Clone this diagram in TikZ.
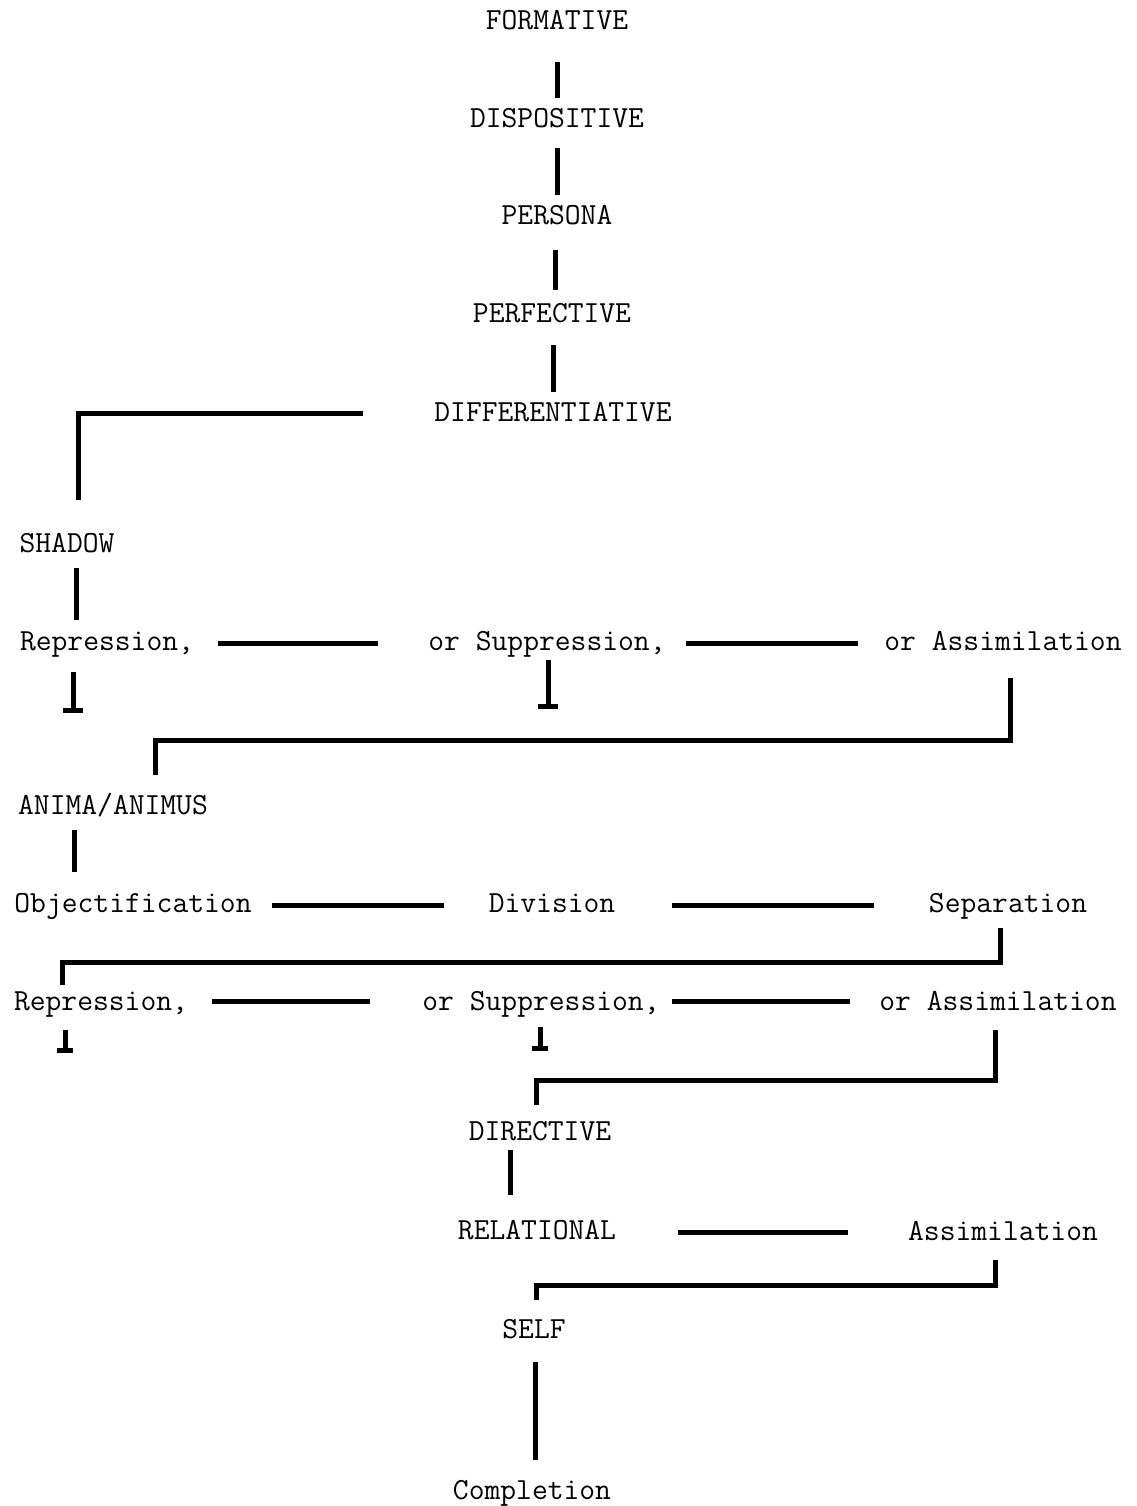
\documentclass[tikz,border=0pt]{standalone}
\usetikzlibrary{calc}
\begin{document}
\begin{tikzpicture}[x=1pt,y=-1pt,
  lbl/.style={font=\fontsize{30.7}{36}\selectfont\ttfamily, inner sep=0pt, text height=19pt, text depth=0pt, anchor=center},
  conn/.style={line width=5pt, line cap=butt, line join=miter}]
\useasboundingbox[fill=white] (0,0) rectangle (1136,1506);
% nodes
\node[lbl] (form) at (557,20) {FORMATIVE};
\node[lbl] (disp) at (557,118) {DISPOSITIVE};
\node[lbl] (pers) at (557,215) {PERSONA};
\node[lbl] (perf) at (552,313) {PERFECTIVE};
\node[lbl] (diff) at (553,412) {DIFFERENTIATIVE};
\node[lbl] (shadow) at (67,543) {SHADOW};
\node[lbl] (rep1) at (107,641) {Repression,};
\node[lbl] (sup1) at (547,641) {or Suppression,};
\node[lbl] (ass1) at (1003,641) {or Assimilation};
\node[lbl] (anima) at (113,805) {ANIMA/ANIMUS};
\node[lbl] (obj) at (133,903) {Objectification};
\node[lbl] (div) at (552,903) {Division};
\node[lbl] (sep) at (1008,903) {Separation};
\node[lbl] (rep2) at (101,1001) {Repression,};
\node[lbl] (sup2) at (541,1001) {or Suppression,};
\node[lbl] (ass2) at (998,1001) {or Assimilation};
\node[lbl] (dir) at (540,1131) {DIRECTIVE};
\node[lbl] (rel) at (537,1230) {RELATIONAL};
\node[lbl] (ass3) at (1003,1231) {Assimilation};
\node[lbl] (self) at (534,1329) {SELF};
\node[lbl] (compl) at (532,1490) {Completion};
% vertical connectors
\draw[conn] ($(form)+(0,42)$) -- ($(disp)+(0,-20)$);
\draw[conn] ($(disp)+(0,30)$) -- ($(pers)+(0,-20)$);
\draw[conn] ($(pers)+(-2,35)$) -- ($(perf)+(3,-23)$);
\draw[conn] ($(perf)+(1,32)$) -- ($(diff)+(0,-20)$);
\draw[conn] ($(diff)+(-190,1)$) -| ($(shadow)+(11,-43)$);
\draw[conn] ($(shadow)+(9,25)$) -- ($(rep1)+(-31,-21)$);
\draw[conn] ($(rep1)+(-34,31)$) -- ++(0,38) ++(-10,0) -- ++(20,0);
\draw[conn] ($(sup1)+(1,19)$) -- ++(0,46) ++(-10,0) -- ++(20,0);
\draw[conn] ($(ass1)+(7,37)$) -- ++(0,62) -| ($(anima)+(42,-30)$);
\draw[conn] ($(anima)+(-39,25)$) -- ($(obj)+(-59,-31)$);
\draw[conn] ($(sep)+(-8,25)$) -- ++(0,34) -| ($(rep2)+(-39,-16)$);
\draw[conn] ($(rep2)+(-36,29)$) -- ++(0,20) ++(-8,0) -- ++(16,0);
\draw[conn] ($(sup2)+(-1,26)$) -- ++(0,21) ++(-8,0) -- ++(16,0);
\draw[conn] ($(ass2)+(-3,29)$) -- ++(0,50) -| ($(dir)+(-4,-26)$);
\draw[conn] ($(dir)+(-30,19)$) -- ($(rel)+(-27,-35)$);
\draw[conn] ($(ass3)+(-8,29)$) -- ++(0,25) -| ($(self)+(2,-29)$);
\draw[conn] ($(self)+(1,33)$) -- ($(compl)+(3,-30)$);
% horizontal connectors
\draw[conn] ($(rep1)+(111,2)$) -- ($(sup1)+(-169,2)$);
\draw[conn] ($(sup1)+(139,2)$) -- ($(ass1)+(-145,2)$);
\draw[conn] ($(obj)+(139,2)$) -- ($(div)+(-108,2)$);
\draw[conn] ($(div)+(120,2)$) -- ($(sep)+(-134,2)$);
\draw[conn] ($(rep2)+(111,0)$) -- ($(sup2)+(-171,0)$);
\draw[conn] ($(sup2)+(131,0)$) -- ($(ass2)+(-148,0)$);
\draw[conn] ($(rel)+(141,2)$) -- ($(ass3)+(-155,1)$);
\end{tikzpicture}
\end{document}
